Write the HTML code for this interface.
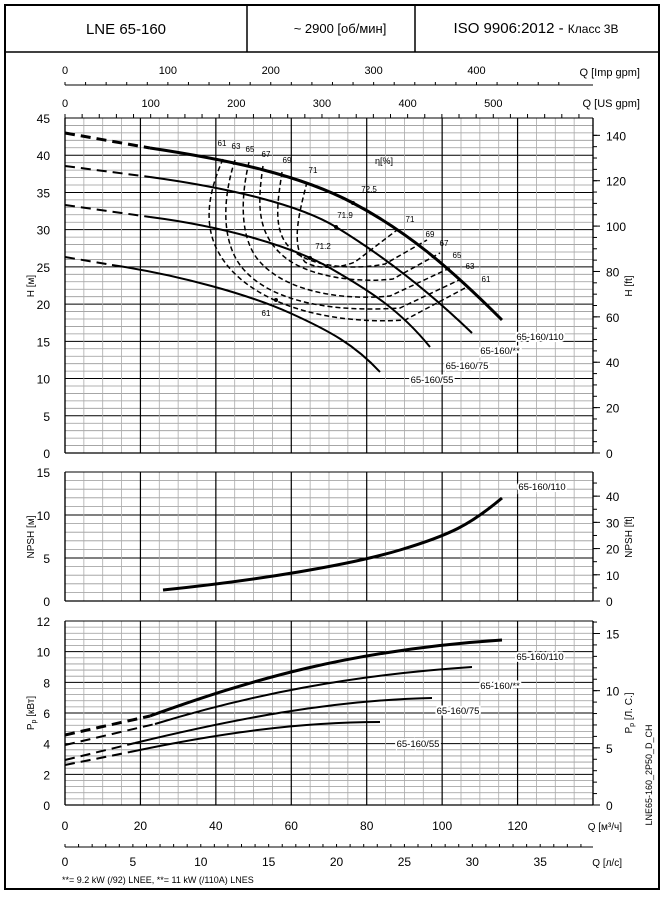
<!DOCTYPE html>
<html><head><meta charset="utf-8"><style>
body{margin:0;background:#fff}
svg text{font-family:"Liberation Sans",sans-serif;fill:#000}
</style></head><body>
<svg id="s" width="664" height="894" xmlns="http://www.w3.org/2000/svg"></svg>
<script>
const s=document.getElementById('s');let h='';
const X=q=>65+q*528/140;
function L(x1,y1,x2,y2,c,w,d){h+=`<line x1="${x1}" y1="${y1}" x2="${x2}" y2="${y2}" stroke="${c}" stroke-width="${w}"${d?` stroke-dasharray="${d}"`:''}/>`;}
function T(x,y,t,sz,a,extra){h+=`<text x="${x}" y="${y}" font-size="${sz}" text-anchor="${a||'middle'}" ${extra||''}>${t}</text>`;}
function P(pts,w,d){h+=`<polyline points="${pts}" fill="none" stroke="#000" stroke-width="${w}"${d?` stroke-dasharray="${d}"`:''} stroke-linejoin="round"/>`;}
function Pth(dd,w,da){h+=`<path d="${dd}" fill="none" stroke="#000" stroke-width="${w}"${da?` stroke-dasharray="${da}"`:''}/>`;}
function box(x,y,t,sz){T(x,y,t,sz,'middle','style="paint-order:stroke" stroke="#fff" stroke-width="4"');}
// frame
h+='<rect x="5" y="5" width="654" height="884" fill="none" stroke="#000" stroke-width="2"/>';
L(5,52,659,52,'#000',1.5);L(247,5,247,52,'#000',1.5);L(415,5,415,52,'#000',1.5);
T(126,34,'LNE 65-160',15);T(340,33,'~ 2900 [об/мин]',13);T(536,33,'ISO 9906:2012 - <tspan font-size="12">Класс 3B</tspan>',15);
// panels
function panel(y0,y1,max,minor,major){
 const py=v=>y1-(v/max)*(y1-y0);
 for(let v=0;v<=max+1e-9;v+=minor){const maj=Math.abs(v/major-Math.round(v/major))<1e-6;L(65,py(v),593,py(v),maj?'#000':'#999',maj?1:0.8);}
 for(let q=0;q<=140;q+=5){const maj=q%20==0;L(X(q),y0,X(q),y1,maj?'#000':'#aaa',maj?1.2:0.8);}
 L(593,y0,593,y1,'#000',1.2);L(65,y0,65,y1,'#000',1.2);L(65,y1,593,y1,'#000',1.2);L(65,y0,593,y0,'#000',1);
 return py;
}
const HY=panel(118,453,45,1,5), NY=panel(472,601,15,1,5), PY=panel(621,805,12,0.4,2);
// left labels
for(let v=0;v<=45;v+=5)T(50,HY(v)+5,v,12,'end');
for(let v=0;v<=15;v+=5)T(50,NY(v)+5,v,12,'end');
for(let v=0;v<=12;v+=2)T(50,PY(v)+5,v,12,'end');
// right ft
for(let f=0;f<=140;f+=20){const y=HY(f*0.3048);L(593,y,600,y,'#000',1);T(606,y+5,f,12,'start');}
for(let f=0;f<=140;f+=5){const y=HY(f*0.3048);L(593,y,597,y,'#000',1);}
for(let f=0;f<=40;f+=10){const y=NY(f*0.3048);L(593,y,600,y,'#000',1);T(606,y+5,f,12,'start');}
for(let f=0;f<=45;f+=5){const y=NY(f*0.3048);L(593,y,597,y,'#000',1);}
for(let p=0;p<=15;p+=5){const y=PY(p*0.7457);L(593,y,600,y,'#000',1);T(606,y+5,p,12,'start');}
for(let p=0;p<=16;p++){const y=PY(p*0.7457);L(593,y,597,y,'#000',1);}
T(34,286,'H [м]',10,'middle','transform="rotate(-90 34 286)"');
T(34,537,'NPSH [м]',10,'middle','transform="rotate(-90 34 537)"');
T(34,713,'P<tspan font-size="7" dy="2">р</tspan><tspan dy="-2"> [кВт]</tspan>',10,'middle','transform="rotate(-90 34 713)"');
T(632,286,'H [ft]',10,'middle','transform="rotate(-90 632 286)"');
T(632,537,'NPSH [ft]',10,'middle','transform="rotate(-90 632 537)"');
T(632,713,'P<tspan font-size="7" dy="2">р</tspan><tspan dy="-2"> [Л. С.]</tspan>',10,'middle','transform="rotate(-90 632 713)"');
T(652,775,'LNE65-160_2P50_D_CH',9,'middle','transform="rotate(-90 652 775)"');
// top axes
L(65,85,593,85,'#000',1);
for(let g=0;g<=480;g+=20){const x=65+g*528/140/3.666;if(x<=593)L(x,82,x,85,'#000',1);}
for(let g=0;g<=400;g+=100)T(65+g*528/140/3.666,74,g,11);
T(640,76,'Q [Imp gpm]',11,'end');
for(let g=0;g<=600;g+=20){const x=65+g*528/140/4.403;if(x<=593)L(x,114,x,118,'#000',1);}
for(let g=0;g<=500;g+=100)T(65+g*528/140/4.403,107,g,11);
T(640,107,'Q [US gpm]',11,'end');
// bottom
for(let q=0;q<=120;q+=20)T(X(q),830,q,12);
T(622,830,'Q [м³/ч]',10,'end');
L(65,847,593,847,'#000',1);
for(let l=0;l<=38;l++){const x=X(l*3.6);L(x,844,x,847,'#000',1);}
for(let l=0;l<=35;l+=5)T(X(l*3.6),866,l,12);
T(622,866,'Q [л/с]',10,'end');
T(62,883,'**= 9.2 kW (/92) LNEE, **= 11 kW (/110A) LNES',9,'start');
// H curves
P('65,133 150,148',3,'10,6');
Pth('M150,148 C230,160 300,175 353,203 S447,265 502,320',3);
P('65,166 150,177',2,'10,6');
Pth('M150,177 C230,188 300,205 336,227 S420,283 472,333',2);
P('65,205 150,217',2,'10,6');
Pth('M150,217 C220,226 290,245 330,268 S400,310 430,347',2);
P('65,257 112,265',2,'10,6');
Pth('M112,265 C180,275 250,295 290,313 S355,345 380,372',2);
// efficiency dashed
const eff=[
 ['M223,159 C205,200 205,230 220,255 C250,305 330,325 405,320 L467,287',[222,146,'61'],[486,282,'61']],
 ['M235,160 C222,200 222,240 240,265 C270,305 340,312 400,308 L459,280',[236,149,'63'],[470,269,'63']],
 ['M249,162 C240,200 240,240 260,262 C290,295 350,300 390,296 L450,268',[250,152,'65'],[457,258,'65']],
 ['M263,166 C258,200 256,230 280,253 C305,278 360,283 393,279 L440,253',[266,157,'67'],[444,246,'67']],
 ['M282,172 C278,200 272,230 290,248 C310,268 355,270 385,264 L427,240',[287,163,'69'],[430,237,'69']],
 ['M307,182 C300,210 290,245 305,262 C318,270 340,268 355,262 L397,230',[313,173,'71'],[410,222,'71']]];
eff.forEach(e=>{Pth(e[0],1.5,'5,3');T(e[1][0],e[1][1],e[1][2],8);T(e[2][0],e[2][1],e[2][2],8);});
T(266,316,'61',8);T(369,192,'72.5',8);T(345,218,'71.9',8);T(323,249,'71.2',8);
T(384,164,'η[%]',9);
[[353,203],[336,227],[310,258],[276,300]].forEach(p=>h+=`<circle cx="${p[0]}" cy="${p[1]}" r="2" fill="#000"/>`);
box(540,340,'65-160/110',9.5);box(500,354,'65-160/**',9.5);box(467,369,'65-160/75',9.5);box(432,383,'65-160/55',9.5);
// NPSH
Pth('M163,590 C260,580 350,565 400,550 S470,525 502,498',3);
box(542,490,'65-160/110',9.5);
// Power
P('65,735 150,716',3,'10,6');Pth('M150,716 C250,680 350,650 502,640',3);
P('65,745 155,724',2,'10,6');Pth('M155,724 C250,695 350,675 472,667',2);
P('65,760 135,743',2,'10,6');Pth('M135,743 C230,720 330,700 432,698',2);
P('65,765 130,752',2,'10,6');Pth('M130,752 C220,733 300,722 380,722',2);
box(540,660,'65-160/110',9.5);box(500,689,'65-160/**',9.5);box(458,714,'65-160/75',9.5);box(418,747,'65-160/55',9.5);
s.innerHTML=h;
</script>
</body></html>
